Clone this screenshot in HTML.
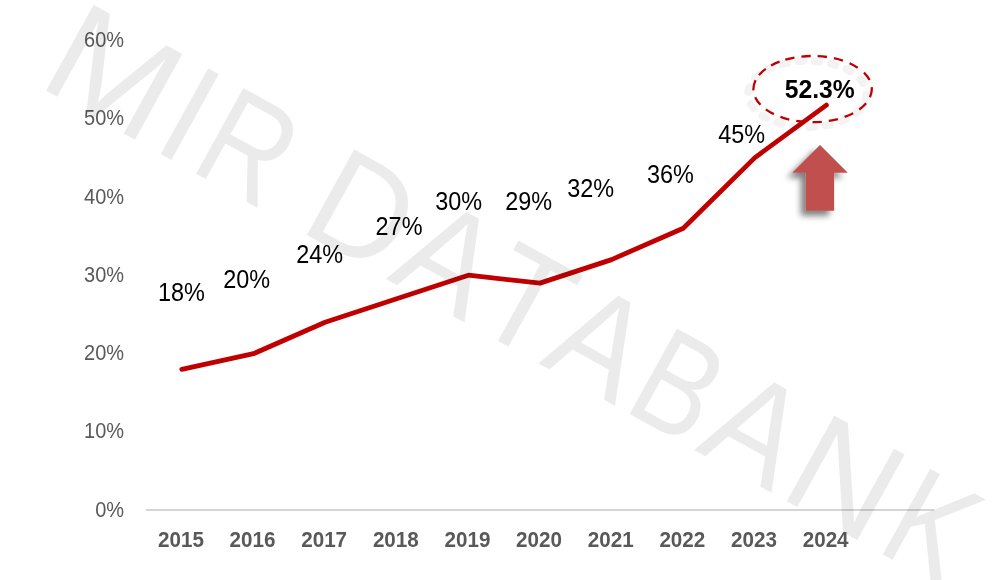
<!DOCTYPE html>
<html><head><meta charset="utf-8">
<title>MIR DATABANK chart</title>
<style>
html,body{margin:0;padding:0;background:#fff;}
body{width:1008px;height:580px;overflow:hidden;}
svg{display:block;will-change:transform;}
text{font-family:"Liberation Sans",sans-serif;}
.wm{font-size:142.4px;fill:#000;fill-opacity:0.08;}
.ya{font-size:21.6px;fill:#595959;}
.xa{font-size:22px;fill:#595959;font-weight:bold;}
.dl{font-size:25px;fill:#000;}
.big{font-size:25px;fill:#000;font-weight:bold;}
</style></head>
<body>
<svg width="1008" height="580" viewBox="0 0 1008 580">
<defs>
<filter id="sh" x="-40%" y="-40%" width="180%" height="180%">
<feGaussianBlur in="SourceAlpha" stdDeviation="3.3"/>
<feOffset dx="-5.3" dy="5.3"/>
<feComponentTransfer><feFuncA type="linear" slope="0.5"/></feComponentTransfer>
<feMerge><feMergeNode/><feMergeNode in="SourceGraphic"/></feMerge>
</filter>
<filter id="sh2" x="-20%" y="-30%" width="140%" height="160%">
<feGaussianBlur stdDeviation="0.6"/>
</filter>
</defs>
<rect width="1008" height="580" fill="#fff"/>
<!-- axis -->
<rect x="146" y="509" width="788" height="2" fill="#d5d5d5"/>
<!-- y labels -->
<text class="ya" x="95.2" y="516.5" textLength="28.9" lengthAdjust="spacingAndGlyphs">0%</text>
<text class="ya" x="84.1" y="438.2" textLength="40.0" lengthAdjust="spacingAndGlyphs">10%</text>
<text class="ya" x="84.1" y="360.0" textLength="40.0" lengthAdjust="spacingAndGlyphs">20%</text>
<text class="ya" x="84.1" y="281.8" textLength="40.0" lengthAdjust="spacingAndGlyphs">30%</text>
<text class="ya" x="84.1" y="203.5" textLength="40.0" lengthAdjust="spacingAndGlyphs">40%</text>
<text class="ya" x="84.1" y="125.2" textLength="40.0" lengthAdjust="spacingAndGlyphs">50%</text>
<text class="ya" x="84.1" y="47.0" textLength="40.0" lengthAdjust="spacingAndGlyphs">60%</text>
<!-- x labels -->
<text class="xa" x="158.0" y="547.2" textLength="45.9" lengthAdjust="spacingAndGlyphs">2015</text>
<text class="xa" x="229.6" y="547.2" textLength="45.9" lengthAdjust="spacingAndGlyphs">2016</text>
<text class="xa" x="301.2" y="547.2" textLength="45.9" lengthAdjust="spacingAndGlyphs">2017</text>
<text class="xa" x="372.9" y="547.2" textLength="45.9" lengthAdjust="spacingAndGlyphs">2018</text>
<text class="xa" x="444.5" y="547.2" textLength="45.9" lengthAdjust="spacingAndGlyphs">2019</text>
<text class="xa" x="516.1" y="547.2" textLength="45.9" lengthAdjust="spacingAndGlyphs">2020</text>
<text class="xa" x="587.8" y="547.2" textLength="45.9" lengthAdjust="spacingAndGlyphs">2021</text>
<text class="xa" x="659.4" y="547.2" textLength="45.9" lengthAdjust="spacingAndGlyphs">2022</text>
<text class="xa" x="731.1" y="547.2" textLength="45.9" lengthAdjust="spacingAndGlyphs">2023</text>
<text class="xa" x="802.7" y="547.2" textLength="45.9" lengthAdjust="spacingAndGlyphs">2024</text>
<!-- line -->
<polyline fill="none" stroke="#c00000" stroke-width="4.8" stroke-linecap="round" stroke-linejoin="round"
points="181.8,369.3 253.5,353.7 325.1,322.3 396.7,298.8 468.4,275.2 540.0,283.1 611.6,259.6 683.3,228.2 754.9,157.6 826.4,105.1"/>
<!-- data labels -->
<text class="dl" x="158.0" y="301.3" textLength="46.9" lengthAdjust="spacingAndGlyphs">18%</text>
<text class="dl" x="223.3" y="288.3" textLength="46.9" lengthAdjust="spacingAndGlyphs">20%</text>
<text class="dl" x="296.2" y="262.7" textLength="46.9" lengthAdjust="spacingAndGlyphs">24%</text>
<text class="dl" x="375.6" y="235.4" textLength="46.9" lengthAdjust="spacingAndGlyphs">27%</text>
<text class="dl" x="435.2" y="209.6" textLength="46.9" lengthAdjust="spacingAndGlyphs">30%</text>
<text class="dl" x="505.3" y="209.6" textLength="46.9" lengthAdjust="spacingAndGlyphs">29%</text>
<text class="dl" x="567.2" y="196.6" textLength="46.9" lengthAdjust="spacingAndGlyphs">32%</text>
<text class="dl" x="647.0" y="182.6" textLength="46.9" lengthAdjust="spacingAndGlyphs">36%</text>
<text class="dl" x="718.3" y="142.9" textLength="46.9" lengthAdjust="spacingAndGlyphs">45%</text>
<text class="big" x="784.8" y="98.2" textLength="70" lengthAdjust="spacingAndGlyphs">52.3%</text>
<!-- ellipse shadow + ellipse -->
<path d="M753.40 89.10A59.20 33.10 0 0 1 871.80 89.10A59.20 33.10 0 0 1 753.40 89.10Z" transform="translate(-5.3,4.9)" fill="none" stroke="#000" stroke-opacity="0.047" stroke-width="8.0" stroke-linecap="round" stroke-dasharray="4.60 10.83 4.60 10.83 4.60 10.83 4.60 11.73 4.60 11.73 4.60 11.73 4.60 11.73 4.60 12.68 4.60 12.13 5.95 11.73 4.60 11.73 4.60 11.73 4.60 11.73 4.60 11.73 4.60 11.73 4.60 11.73 4.60 11.73 4.60 11.73 4.60 11.73" stroke-dashoffset="-2.35" filter="url(#sh2)"/>
<path d="M753.40 89.10A59.20 33.10 0 0 1 871.80 89.10A59.20 33.10 0 0 1 753.40 89.10Z" fill="none" stroke="#c00000" stroke-width="2.3" stroke-dasharray="9.30 6.13 9.30 6.13 9.30 6.13 9.30 7.03 9.30 7.03 9.30 7.03 9.30 7.03 9.30 7.98 9.30 7.43 10.65 7.03 9.30 7.03 9.30 7.03 9.30 7.03 9.30 7.03 9.30 7.03 9.30 7.03 9.30 7.03 9.30 7.03 9.30 7.03"/>
<!-- arrow -->
<polygon filter="url(#sh)" fill="#c0504d" points="820,145.1 847.8,172.8 834.1,172.8 834.1,210.8 805.9,210.8 805.9,172.8 792.2,172.8"/>
<!-- watermark (overlaid, translucent) -->
<text class="wm" transform="translate(46,90.6) rotate(29)" y="0"><tspan x="-12.4" textLength="126.4" lengthAdjust="spacingAndGlyphs">M</tspan><tspan x="119.1" textLength="36.2" lengthAdjust="spacingAndGlyphs">I</tspan><tspan x="161.9" textLength="85.8" lengthAdjust="spacingAndGlyphs">R</tspan><tspan> </tspan><tspan x="287.2" textLength="96.7" lengthAdjust="spacingAndGlyphs">D</tspan><tspan x="388.1" textLength="90.6" lengthAdjust="spacingAndGlyphs">A</tspan><tspan x="483.1" textLength="79.2" lengthAdjust="spacingAndGlyphs">T</tspan><tspan x="562.4" textLength="88.3" lengthAdjust="spacingAndGlyphs">A</tspan><tspan x="657.8" textLength="77.4" lengthAdjust="spacingAndGlyphs">B</tspan><tspan x="740.7" textLength="89.2" lengthAdjust="spacingAndGlyphs">A</tspan><tspan x="835.2" textLength="104.0" lengthAdjust="spacingAndGlyphs">N</tspan><tspan x="946.9" textLength="79.4" lengthAdjust="spacingAndGlyphs">K</tspan></text>
</svg>
</body></html>
